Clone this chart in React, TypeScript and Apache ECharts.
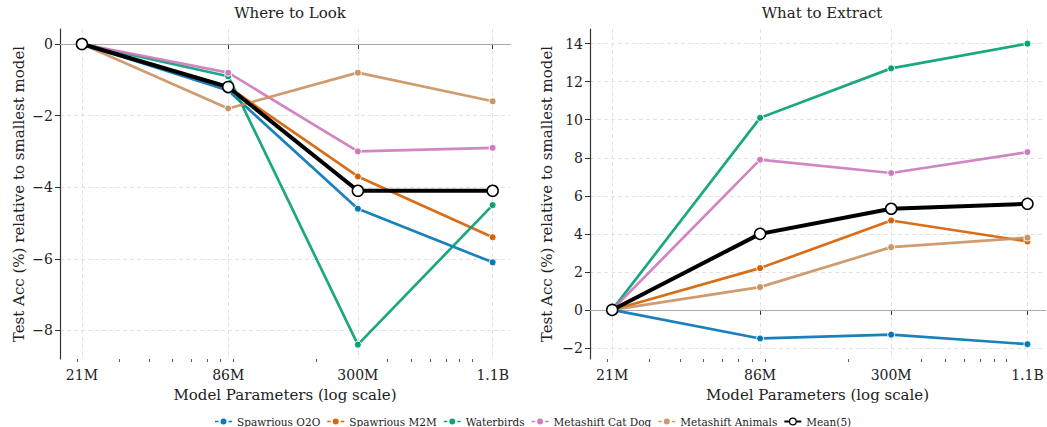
import React, { useEffect, useRef } from "react";
import * as echarts from "echarts";

const FONT = "DejaVu Serif";

const datasetNames = [
  "Spawrious O2O",
  "Spawrious M2M",
  "Waterbirds",
  "Metashift Cat Dog",
  "Metashift Animals",
];
const meanName = "Mean(5)";
const datasetColors = ["#0173b2", "#d55e00", "#029e73", "#cc78bc", "#ca9161"];

const modelParams = [21e6, 86e6, 300e6, 1.1e9];
const modelLabels = ["21M", "86M", "300M", "1.1B"];
const minorParams = [20e6, 30e6, 40e6, 50e6, 60e6, 70e6, 80e6, 90e6, 200e6, 400e6, 500e6, 600e6, 700e6, 800e6, 900e6];

// Where to Look
const lookO2O = [0, -1.3, -4.6, -6.1];
const lookM2M = [0, -1.2, -3.7, -5.4];
const lookWaterbirds = [0, -0.9, -8.4, -4.5];
const lookCatDog = [0, -0.8, -3.0, -2.9];
const lookAnimals = [0, -1.8, -0.8, -1.6];
const lookMean = [0, -1.2, -4.1, -4.1];
const lookTicks = [-8, -6, -4, -2, 0];

// What to Extract
const extO2O = [0, -1.5, -1.3, -1.8];
const extM2M = [0, 2.2, 4.7, 3.6];
const extWaterbirds = [0, 10.1, 12.7, 14.0];
const extCatDog = [0, 7.9, 7.2, 8.3];
const extAnimals = [0, 1.2, 3.3, 3.8];
const extMean = [0, 4.0, 5.32, 5.58];
const extTicks = [-2, 0, 2, 4, 6, 8, 10, 12, 14];

const panelTitles = ["Where to Look", "What to Extract"];
const xTitle = "Model Parameters (log scale)";
const yTitle = "Test Acc (%) relative to smallest model";

const fmtY = (v: number) => (v < 0 ? "\u2212" + Math.abs(v) : String(v));
const fmtX = (v: number) => {
  let best = 0;
  let bd = Infinity;
  modelParams.forEach((p, i) => {
    const d = Math.abs(Math.log(p) - Math.log(v));
    if (d < bd) {
      bd = d;
      best = i;
    }
  });
  return modelLabels[best];
};

const ICON_SERIES =
  "path://M0,3.2h3.5v1.6h-3.5z M5.5,4a3,3 0 1,1 6,0a3,3 0 1,1 -6,0z M13.5,3.2h3.5v1.6h-3.5z";
const ICON_MEAN =
  "path://M0,3h4.5v2h-4.5z M12.5,3h4.5v2h-4.5z M4.5,4a4,4 0 1,1 8,0a4,4 0 1,1 -8,0z M5.8,4a2.7,2.7 0 1,0 5.4,0a2.7,2.7 0 1,0 -5.4,0z";

export default function App() {
  const ref = useRef<HTMLDivElement>(null);

  useEffect(() => {
    if (!ref.current) return;
    const chart = echarts.init(ref.current, undefined, { renderer: "svg" });

    const grids = [
      { left: 60, top: 29, width: 450, height: 330 },
      { left: 590, top: 29, width: 455, height: 330 },
    ];

    const xAxes: any[] = [];
    const yAxes: any[] = [];
    const yRanges = [
      { min: -8.8, max: 0.42, ticks: lookTicks, gap: 34 },
      { min: -2.58, max: 14.77, ticks: extTicks, gap: 36 },
    ];
    grids.forEach((_, gi) => {
      xAxes.push({
        type: "log",
        logBase: 10,
        gridIndex: gi,
        position: "bottom",
        min: 17e6,
        max: 1.3e9,
        axisLine: { show: true, lineStyle: { color: "#333", width: 1.2 } },
        axisTick: { show: true, customValues: modelParams, length: 5, lineStyle: { color: "#333", width: 1 } },
        axisLabel: {
          customValues: modelParams,
          formatter: (v: number) => fmtX(v),
          fontFamily: FONT,
          fontSize: 14,
          color: "#222",
          margin: 9,
        },
        splitLine: { show: true, lineStyle: { color: "#e3e3e3", width: 1, type: [4, 3] } },
        name: xTitle,
        nameLocation: "middle",
        nameGap: 28,
        nameTextStyle: { fontFamily: FONT, fontSize: 15, color: "#222" },
      });
      xAxes.push({
        type: "log",
        logBase: 10,
        gridIndex: gi,
        position: "bottom",
        min: 17e6,
        max: 1.3e9,
        axisLine: { show: false },
        axisTick: { show: true, customValues: minorParams, length: 3, lineStyle: { color: "#333", width: 0.8 } },
        axisLabel: { show: false },
        splitLine: { show: false },
      });
      const yr = yRanges[gi];
      yAxes.push({
        type: "value",
        gridIndex: gi,
        min: yr.min,
        max: yr.max,
        axisLine: { show: true, lineStyle: { color: "#333", width: 1.2 } },
        axisTick: { show: true, customValues: yr.ticks, length: 5, lineStyle: { color: "#333" } },
        axisLabel: {
          customValues: yr.ticks,
          formatter: (v: number) => fmtY(v),
          fontFamily: FONT,
          fontSize: 14,
          color: "#222",
          margin: 7,
        },
        splitLine: { show: true, lineStyle: { color: "#e3e3e3", width: 1, type: [4, 3] } },
        name: yTitle,
        nameLocation: "middle",
        nameGap: yr.gap,
        nameRotate: 90,
        nameTextStyle: { fontFamily: FONT, fontSize: 15, color: "#222" },
      });
    });

    const panels = [
      { data: [lookO2O, lookM2M, lookWaterbirds, lookCatDog, lookAnimals], mean: lookMean },
      { data: [extO2O, extM2M, extWaterbirds, extCatDog, extAnimals], mean: extMean },
    ];

    const series: any[] = [];
    panels.forEach((p, gi) => {
      p.data.forEach((vals, si) => {
        const s: any = {
          type: "line",
          name: datasetNames[si],
          xAxisIndex: gi * 2,
          yAxisIndex: gi,
          data: vals.map((v, i) => [modelParams[i], v]),
          symbol: "circle",
          symbolSize: 7,
          z: 3,
          lineStyle: { color: datasetColors[si], width: 2.7, opacity: 0.9 },
          itemStyle: { color: datasetColors[si], borderColor: "#fff", borderWidth: 1, opacity: 0.95 },
        };
        if (si === 0) {
          s.markLine = {
            silent: true,
            symbol: "none",
            z: 1,
            label: { show: false },
            lineStyle: { color: "#aaaaaa", width: 1, type: "solid" },
            data: [{ yAxis: 0 }],
          };
        }
        series.push(s);
      });
      series.push({
        type: "line",
        name: meanName,
        xAxisIndex: gi * 2,
        yAxisIndex: gi,
        data: p.mean.map((v, i) => [modelParams[i], v]),
        symbol: "circle",
        symbolSize: 11,
        z: 5,
        lineStyle: { color: "#000", width: 4 },
        itemStyle: { color: "#fff", borderColor: "#000", borderWidth: 1.5 },
      });
    });

    const legendData: any[] = datasetNames.map((n, i) => ({
      name: n,
      icon: ICON_SERIES,
      itemStyle: { color: datasetColors[i], borderWidth: 0 },
    }));
    legendData.push({ name: meanName, icon: ICON_MEAN, itemStyle: { color: "#000", borderWidth: 0 } });

    chart.setOption({
      animation: false,
      backgroundColor: "#fff",
      title: [
        {
          text: panelTitles[0],
          left: 285,
          top: 0,
          textAlign: "center",
          textStyle: { fontFamily: FONT, fontSize: 15, fontWeight: "normal", color: "#222" },
        },
        {
          text: panelTitles[1],
          left: 817,
          top: 0,
          textAlign: "center",
          textStyle: { fontFamily: FONT, fontSize: 15, fontWeight: "normal", color: "#222" },
        },
      ],
      legend: {
        left: 210,
        top: 411,
        itemWidth: 17,
        itemHeight: 8,
        itemGap: 7,
        textStyle: { fontFamily: FONT, fontSize: 10.5, color: "#222" },
        data: legendData,
      },
      grid: grids,
      xAxis: xAxes,
      yAxis: yAxes,
      series,
    });

    return () => chart.dispose();
  }, []);

  return <div ref={ref} style={{ width: 1047, height: 427, position: "absolute", left: 0, top: 0 }} />;
}
